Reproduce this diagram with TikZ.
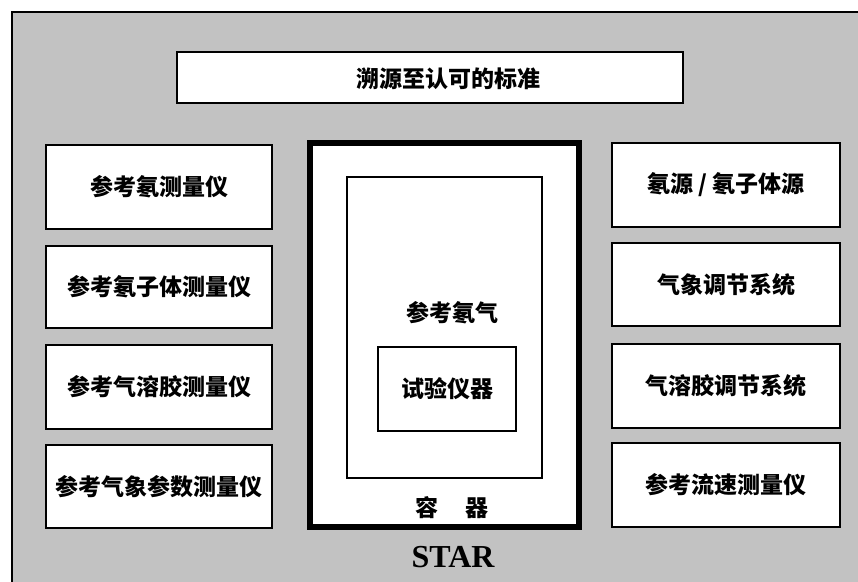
\documentclass[tikz,border=0pt]{standalone}
\usepackage{fontspec}
\newfontfamily\cjk{Noto Sans CJK SC}
\newfontfamily\starfont{Liberation Serif}
\begin{document}
\begin{tikzpicture}[x=1pt,y=-1pt,
  box/.style={draw,line width=1.8pt,fill=white,inner sep=0pt},
  lbl/.style={font=\cjk\bfseries\fontsize{23}{23}\selectfont},
  txt/.style={inner sep=0pt,lbl}]
\useasboundingbox (0,0) rectangle (858,581);
\begin{scope}
  \clip (0,0) rectangle (858,581);
  \draw[fill=black!24,line width=2.6pt] (12,12) rectangle (880,600);
\end{scope}
% top box
\node[box,lbl,minimum width=506pt,minimum height=51pt] (top) at (430,77.5) {};
\node[txt] (toptxt) at (448,79) {溯源至认可的标准};
% left column
\node[box,lbl,minimum width=226pt,minimum height=84pt] (l1) at (159,187) {参考氡测量仪};
\node[box,lbl,minimum width=226pt,minimum height=82pt] (l2) at (159,287) {参考氡子体测量仪};
\node[box,lbl,minimum width=226pt,minimum height=84pt] (l3) at (159,387) {参考气溶胶测量仪};
\node[box,lbl,minimum width=226pt,minimum height=83pt] (l4) at (159,486.5) {参考气象参数测量仪};
% right column
\node[box,lbl,minimum width=228pt,minimum height=84pt] (r1) at (726,185) {氡源 / 氡子体源};
\node[box,lbl,minimum width=228pt,minimum height=83pt] (r2) at (726,284.5) {气象调节系统};
\node[box,lbl,minimum width=228pt,minimum height=84pt] (r3) at (726,386) {气溶胶调节系统};
\node[box,lbl,minimum width=228pt,minimum height=84pt] (r4) at (726,485) {参考流速测量仪};
% centre container
\node[draw,line width=6pt,fill=white,minimum width=269pt,minimum height=384pt,inner sep=0pt] (cont) at (444.5,335) {};
\node[draw,line width=1.6pt,fill=white,minimum width=195pt,minimum height=301pt,inner sep=0pt] (gas) at (444.5,327.5) {};
\node[draw,line width=1.6pt,fill=white,minimum width=138pt,minimum height=84pt,inner sep=0pt,lbl] (inst) at (447,389) {试验仪器};
\node[txt] (gastxt) at (452,313) {参考氡气};
\node[txt] (conttxt) at (452,508) {容\hspace{1.2em}器};
\node[inner sep=0pt,font=\starfont\bfseries\fontsize{32}{32}\selectfont] (star) at (453,557) {STAR};
\end{tikzpicture}
\end{document}
